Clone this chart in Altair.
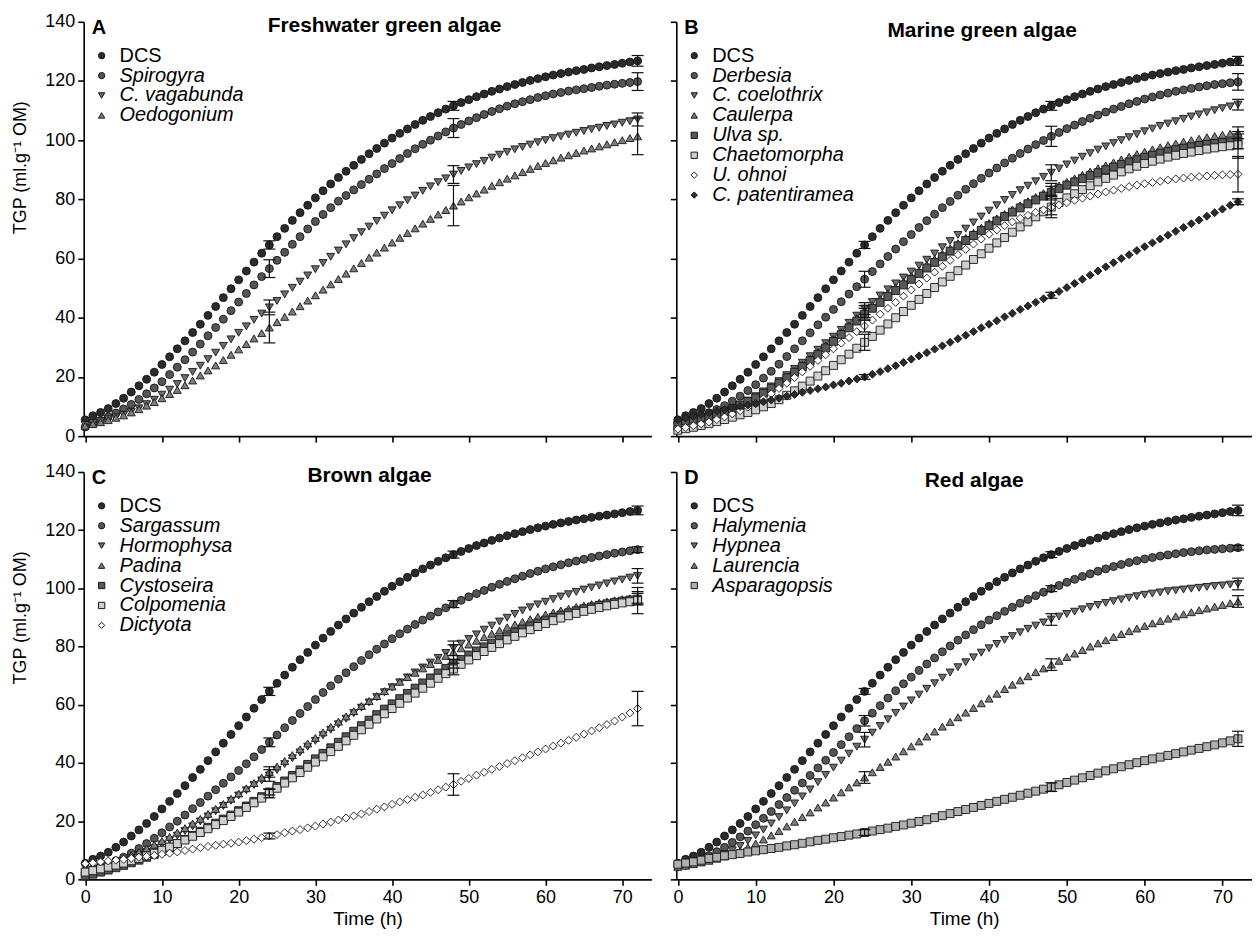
import altair as alt
import pandas as pd

HOURS = list(range(73))
ERR_TIMES = [24, 48, 72]

# ---------------- shared control ----------------
DCS = [5.5, 6.9, 8.0, 9.3, 11.0, 12.8, 14.9, 17.0, 19.2, 21.6,
       24.2, 26.8, 29.5, 32.2, 35.0, 37.8, 40.8, 43.8, 46.8, 49.8,
       52.8, 55.8, 58.8, 61.8, 64.6, 67.4, 70.2, 72.9, 75.5, 78.0,
       80.5, 82.9, 85.2, 87.4, 89.5, 91.5, 93.5, 95.4, 97.2, 99.0,
       100.7, 102.3, 103.8, 105.3, 106.7, 108.0, 109.3, 110.5, 111.6, 112.7,
       113.7, 114.7, 115.6, 116.5, 117.3, 118.1, 118.8, 119.5, 120.2, 120.8,
       121.4, 122.0, 122.5, 123.0, 123.5, 123.9, 124.4, 124.8, 125.2, 125.6,
       126.0, 126.4, 126.8]

# ---------------- A: freshwater green algae ----------------
SPIROGYRA = [3.1, 4.2, 5.3, 6.5, 7.8, 9.2, 10.7, 12.4, 14.3, 16.3,
             18.4, 20.8, 23.3, 25.8, 28.4, 31.1, 33.9, 36.7, 39.5, 42.4,
             45.3, 48.2, 51.1, 53.9, 56.6, 59.4, 62.1, 64.8, 67.4, 70.0,
             72.5, 74.9, 77.2, 79.4, 81.3, 83.2, 85.0, 86.8, 88.6, 90.4,
             92.1, 93.8, 95.5, 97.1, 98.6, 100.0, 101.4, 102.8, 104.1, 105.3,
             106.5, 107.6, 108.7, 109.7, 110.6, 111.5, 112.3, 113.0, 113.7, 114.4,
             115.0, 115.6, 116.1, 116.6, 117.0, 117.4, 117.8, 118.2, 118.6, 118.9,
             119.2, 119.5, 119.8]
C_VAGABUNDA = [3.8, 4.4, 5.0, 5.7, 6.4, 7.2, 8.2, 9.4, 10.8, 12.3,
               14.0, 15.7, 17.6, 19.6, 21.7, 23.8, 26.0, 28.2, 30.5, 32.7,
               34.9, 37.1, 39.3, 41.4, 43.5, 45.7, 47.9, 50.1, 52.2, 54.3,
               56.4, 58.5, 60.6, 62.7, 64.8, 66.9, 68.9, 70.8, 72.7, 74.5,
               76.3, 78.0, 79.7, 81.3, 82.9, 84.4, 85.8, 87.1, 88.4, 89.6,
               90.8, 91.9, 93.0, 94.1, 95.1, 96.0, 96.9, 97.7, 98.5, 99.3,
               100.0, 100.7, 101.3, 101.9, 102.5, 103.1, 103.7, 104.2, 104.8, 105.3,
               105.9, 106.4, 107.0]
OEDOGONIUM = [3.5, 4.1, 4.7, 5.4, 6.2, 7.0, 8.0, 9.1, 10.3, 11.5,
              12.8, 14.2, 15.6, 17.2, 18.8, 20.5, 22.2, 23.9, 25.7, 27.5,
              29.3, 31.1, 33.0, 34.8, 36.7, 38.5, 40.3, 42.1, 43.9, 45.8,
              47.6, 49.5, 51.3, 53.1, 54.9, 56.7, 58.5, 60.3, 62.0, 63.7,
              65.4, 67.0, 68.6, 70.2, 71.8, 73.4, 74.9, 76.4, 77.9, 79.3,
              80.7, 82.0, 83.3, 84.6, 85.8, 87.0, 88.1, 89.2, 90.3, 91.3,
              92.3, 93.2, 94.1, 94.9, 95.7, 96.5, 97.2, 97.9, 98.6, 99.3,
              100.0, 100.7, 101.3]

# ---------------- B: marine green algae ----------------
DERBESIA = [4.5, 5.2, 6.0, 6.9, 7.9, 9.0, 10.3, 11.8, 13.5, 15.4,
            17.4, 19.6, 21.9, 24.3, 26.9, 29.5, 32.2, 34.9, 37.6, 40.2,
            42.8, 45.4, 48.0, 50.5, 53.0, 55.6, 58.2, 60.7, 63.2, 65.7,
            68.1, 70.5, 72.8, 75.0, 77.2, 79.3, 81.4, 83.4, 85.3, 87.1,
            88.9, 90.6, 92.3, 93.9, 95.5, 97.0, 98.5, 99.9, 101.3, 102.6,
            103.9, 105.1, 106.3, 107.4, 108.5, 109.5, 110.5, 111.4, 112.3, 113.1,
            113.9, 114.6, 115.3, 115.9, 116.5, 117.0, 117.5, 118.0, 118.4, 118.8,
            119.1, 119.4, 119.7]
C_COELOTHRIX = [3.0, 3.6, 4.3, 5.1, 6.0, 7.0, 8.1, 9.3, 10.6, 12.0,
                13.5, 15.1, 16.8, 18.6, 20.6, 22.7, 24.8, 27.0, 29.2, 31.4,
                33.6, 35.9, 38.3, 40.7, 43.1, 45.3, 47.5, 49.6, 51.6, 53.6,
                55.6, 57.6, 59.6, 61.7, 63.8, 65.9, 68.0, 70.1, 72.2, 74.2,
                76.2, 78.0, 79.8, 81.5, 83.1, 84.6, 86.1, 87.6, 89.0, 90.4,
                91.8, 93.1, 94.4, 95.6, 96.8, 97.9, 99.0, 100.0, 101.0, 102.0,
                103.0, 103.9, 104.8, 105.6, 106.4, 107.2, 108.0, 108.7, 109.4, 110.1,
                110.8, 111.4, 112.0]
CAULERPA = [3.5, 4.0, 4.6, 5.3, 6.1, 7.0, 8.0, 9.1, 10.3, 11.6,
            13.0, 14.6, 16.3, 18.1, 20.0, 22.0, 24.1, 26.2, 28.4, 30.6,
            32.8, 35.1, 37.4, 39.8, 42.1, 44.2, 46.3, 48.3, 50.3, 52.2,
            54.1, 56.0, 57.9, 59.8, 61.6, 63.4, 65.2, 67.0, 68.7, 70.4,
            72.0, 73.6, 75.1, 76.6, 78.0, 79.4, 80.8, 82.1, 83.4, 84.7,
            85.9, 87.1, 88.3, 89.4, 90.5, 91.5, 92.5, 93.5, 94.4, 95.3,
            96.1, 96.9, 97.6, 98.3, 98.9, 99.5, 100.0, 100.5, 101.0, 101.4,
            101.8, 102.2, 102.5]
ULVA = [3.7, 4.2, 4.8, 5.5, 6.3, 7.2, 8.2, 9.3, 10.5, 11.7,
        12.9, 14.5, 16.2, 17.9, 19.7, 21.6, 23.5, 25.5, 27.6, 29.8,
        32.0, 34.3, 36.6, 38.9, 41.2, 43.2, 45.2, 47.2, 49.2, 51.1,
        53.0, 54.9, 56.8, 58.7, 60.6, 62.5, 64.3, 66.1, 67.8, 69.5,
        71.1, 72.7, 74.2, 75.7, 77.1, 78.5, 79.8, 81.1, 82.4, 83.6,
        84.8, 85.9, 87.0, 88.0, 89.0, 90.0, 90.9, 91.8, 92.6, 93.4,
        94.2, 94.9, 95.6, 96.2, 96.8, 97.3, 97.8, 98.2, 98.6, 98.9,
        99.2, 99.4, 99.6]
CHAETOMORPHA = [2.0, 2.5, 3.0, 3.6, 4.2, 4.9, 5.6, 6.4, 7.2, 8.0,
                8.9, 9.9, 11.0, 12.3, 13.8, 15.3, 16.9, 18.6, 20.3, 22.1,
                23.9, 25.8, 27.7, 29.7, 31.7, 33.7, 35.8, 37.9, 40.0, 42.1,
                44.2, 46.2, 48.2, 50.2, 52.1, 54.0, 55.9, 57.8, 59.7, 61.6,
                63.5, 65.3, 67.1, 68.9, 70.7, 72.4, 74.1, 75.8, 77.4, 79.0,
                80.5, 81.9, 83.3, 84.6, 85.9, 87.1, 88.2, 89.3, 90.3, 91.2,
                92.1, 92.9, 93.6, 94.3, 94.9, 95.5, 96.0, 96.5, 97.0, 97.4,
                97.8, 98.1, 98.4]
U_OHNOI = [2.4, 2.9, 3.5, 4.1, 4.8, 5.6, 6.5, 7.5, 8.6, 9.8,
           11.0, 12.6, 14.3, 16.1, 17.9, 19.8, 21.7, 23.6, 25.6, 27.5,
           29.5, 31.4, 33.3, 35.3, 37.2, 39.2, 41.2, 43.2, 45.2, 47.3,
           49.4, 51.4, 53.4, 55.4, 57.4, 59.4, 61.3, 63.1, 64.9, 66.6,
           68.2, 69.7, 71.1, 72.4, 73.6, 74.6, 75.6, 76.5, 77.3, 78.1,
           78.9, 79.7, 80.4, 81.1, 81.8, 82.5, 83.1, 83.7, 84.3, 84.8,
           85.3, 85.7, 86.1, 86.5, 86.9, 87.2, 87.5, 87.7, 87.9, 88.1,
           88.3, 88.4, 88.5]
C_PATENTIRAMEA = [5.5, 6.1, 6.7, 7.3, 7.9, 8.5, 9.0, 9.5, 10.0, 10.5,
                  11.0, 11.6, 12.2, 12.8, 13.5, 14.1, 14.8, 15.4, 16.0, 16.6,
                  17.3, 17.9, 18.6, 19.3, 20.0, 20.9, 21.8, 22.8, 23.8, 24.9,
                  26.0, 27.1, 28.2, 29.4, 30.5, 31.7, 32.9, 34.1, 35.3, 36.6,
                  37.8, 39.0, 40.3, 41.5, 42.8, 44.0, 45.2, 46.4, 47.6, 48.9,
                  50.2, 51.6, 53.0, 54.4, 55.8, 57.2, 58.6, 60.0, 61.3, 62.7,
                  64.0, 65.3, 66.6, 67.9, 69.2, 70.5, 71.8, 73.0, 74.3, 75.5,
                  76.7, 78.0, 79.2]

# ---------------- C: brown algae ----------------
SARGASSUM = [2.9, 3.6, 4.4, 5.3, 6.4, 7.6, 9.0, 10.6, 12.3, 14.1,
             16.0, 18.0, 20.0, 22.1, 24.3, 26.4, 28.6, 30.8, 33.0, 35.2,
             37.4, 39.7, 42.1, 44.6, 47.1, 49.6, 52.1, 54.6, 57.0, 59.4,
             61.8, 64.2, 66.5, 68.8, 71.0, 73.1, 75.2, 77.2, 79.1, 80.9,
             82.7, 84.4, 86.0, 87.6, 89.1, 90.5, 91.9, 93.3, 94.6, 95.9,
             97.1, 98.2, 99.3, 100.4, 101.4, 102.4, 103.3, 104.2, 105.1, 105.9,
             106.7, 107.4, 108.1, 108.8, 109.4, 110.0, 110.6, 111.1, 111.6, 112.1,
             112.5, 112.9, 113.3]
HORMOPHYSA = [2.5, 3.1, 3.8, 4.6, 5.4, 6.3, 7.3, 8.4, 9.5, 10.7,
              12.0, 13.5, 15.0, 16.6, 18.2, 19.9, 21.6, 23.4, 25.2, 27.0,
              28.8, 30.6, 32.4, 34.0, 35.7, 37.6, 39.6, 41.6, 43.6, 45.6,
              47.6, 49.5, 51.4, 53.3, 55.2, 57.1, 59.0, 60.8, 62.6, 64.3,
              66.0, 67.7, 69.4, 71.1, 72.8, 74.5, 76.1, 77.8, 79.4, 81.0,
              82.6, 84.2, 85.8, 87.2, 88.6, 89.9, 91.2, 92.4, 93.5, 94.5,
              95.4, 96.3, 97.2, 98.0, 98.8, 99.6, 100.3, 101.0, 101.7, 102.4,
              103.0, 103.7, 104.3]
PADINA = [3.5, 4.1, 4.8, 5.6, 6.4, 7.3, 8.3, 9.4, 10.6, 11.9,
          13.2, 14.6, 16.1, 17.6, 19.2, 20.8, 22.5, 24.2, 25.9, 27.7,
          29.5, 31.3, 33.1, 35.0, 36.9, 38.8, 40.7, 42.7, 44.7, 46.7,
          48.6, 50.5, 52.4, 54.2, 56.0, 57.8, 59.6, 61.3, 63.0, 64.7,
          66.3, 67.9, 69.5, 71.0, 72.5, 74.0, 75.4, 76.8, 78.1, 79.4,
          80.7, 82.0, 83.2, 84.4, 85.5, 86.6, 87.6, 88.5, 89.4, 90.2,
          91.0, 91.7, 92.4, 93.0, 93.6, 94.1, 94.6, 95.1, 95.5, 95.9,
          96.3, 96.6, 96.9]
CYSTOSEIRA = [1.2, 1.8, 2.5, 3.2, 4.0, 4.8, 5.7, 6.6, 7.6, 8.6,
              9.7, 11.0, 12.3, 13.7, 15.1, 16.5, 17.9, 19.3, 20.7, 22.1,
              23.6, 25.2, 26.8, 28.4, 30.0, 31.9, 33.8, 35.7, 37.6, 39.5,
              41.4, 43.3, 45.2, 47.1, 49.0, 50.9, 52.8, 54.7, 56.6, 58.5,
              60.3, 62.1, 63.9, 65.7, 67.5, 69.2, 70.9, 72.5, 74.1, 75.6,
              77.1, 78.5, 79.9, 81.2, 82.5, 83.7, 84.9, 86.0, 87.1, 88.1,
              89.1, 90.0, 90.8, 91.6, 92.3, 93.0, 93.6, 94.2, 94.7, 95.2,
              95.6, 96.0, 96.3]
COLPOMENIA = [2.5, 3.0, 3.6, 4.2, 4.9, 5.6, 6.4, 7.2, 8.1, 9.0,
              10.0, 11.1, 12.3, 13.5, 14.8, 16.1, 17.4, 18.8, 20.2, 21.6,
              23.1, 24.7, 26.3, 27.9, 29.5, 31.3, 33.1, 34.9, 36.7, 38.5,
              40.3, 42.1, 43.9, 45.7, 47.6, 49.5, 51.4, 53.3, 55.1, 56.9,
              58.7, 60.5, 62.3, 64.0, 65.7, 67.4, 69.1, 70.7, 72.3, 73.9,
              75.4, 76.9, 78.3, 79.7, 81.0, 82.3, 83.5, 84.7, 85.8, 86.9,
              87.9, 88.9, 89.8, 90.6, 91.4, 92.1, 92.8, 93.4, 94.0, 94.5,
              95.0, 95.4, 95.8]
DICTYOTA = [5.4, 5.7, 6.0, 6.3, 6.6, 6.9, 7.2, 7.6, 7.9, 8.2,
            8.6, 9.0, 9.4, 9.9, 10.4, 10.9, 11.3, 11.7, 12.1, 12.4,
            12.8, 13.3, 13.8, 14.3, 14.9, 15.4, 16.0, 16.6, 17.1, 17.7,
            18.3, 19.0, 19.7, 20.4, 21.1, 21.8, 22.5, 23.3, 24.1, 24.9,
            25.8, 26.6, 27.4, 28.2, 29.0, 29.9, 30.8, 31.7, 32.6, 33.7,
            34.7, 35.8, 36.8, 37.8, 38.8, 39.8, 40.8, 41.8, 42.8, 43.8,
            44.8, 45.8, 46.8, 47.8, 48.8, 49.9, 51.0, 52.1, 53.2, 54.4,
            55.8, 57.2, 58.7]

# ---------------- D: red algae ----------------
HALYMENIA = [4.5, 5.2, 6.0, 7.0, 8.1, 9.5, 11.0, 12.7, 14.6, 16.6,
             18.8, 21.0, 23.3, 25.7, 28.1, 30.6, 33.1, 35.7, 38.3, 40.9,
             43.6, 46.3, 49.0, 51.8, 54.5, 57.1, 59.7, 62.3, 64.8, 67.2,
             69.5, 71.8, 74.0, 76.1, 78.2, 80.2, 82.2, 84.0, 85.8, 87.5,
             89.1, 90.6, 92.1, 93.5, 94.9, 96.2, 97.5, 98.7, 99.9, 101.0,
             102.1, 103.1, 104.1, 105.0, 105.9, 106.7, 107.5, 108.2, 108.9, 109.5,
             110.1, 110.6, 111.1, 111.5, 111.9, 112.3, 112.6, 112.9, 113.2, 113.4,
             113.6, 113.8, 114.0]
HYPNEA = [4.0, 4.5, 5.1, 5.8, 6.6, 7.6, 8.7, 10.0, 11.5, 13.2,
          15.1, 17.1, 19.2, 21.4, 23.7, 26.1, 28.5, 30.9, 33.4, 35.9,
          38.4, 40.8, 43.2, 45.6, 48.0, 50.4, 52.7, 55.0, 57.2, 59.4,
          61.5, 63.5, 65.5, 67.4, 69.3, 71.1, 72.9, 74.6, 76.3, 77.9,
          79.4, 80.9, 82.3, 83.6, 84.9, 86.1, 87.2, 88.3, 89.3, 90.3,
          91.2, 92.0, 92.8, 93.6, 94.3, 95.0, 95.6, 96.2, 96.8, 97.3,
          97.8, 98.2, 98.6, 99.0, 99.3, 99.6, 99.9, 100.2, 100.5, 100.8,
          101.0, 101.3, 101.5]
LAURENCIA = [4.3, 4.7, 5.2, 5.8, 6.4, 7.1, 7.9, 8.8, 9.8, 11.0,
             12.3, 13.7, 15.1, 16.6, 18.2, 19.8, 21.4, 23.0, 24.7, 26.4,
             28.1, 29.9, 31.6, 33.3, 35.0, 36.8, 38.6, 40.4, 42.2, 44.0,
             45.7, 47.4, 49.1, 50.8, 52.5, 54.1, 55.7, 57.3, 58.9, 60.5,
             62.1, 63.8, 65.4, 66.9, 68.4, 69.8, 71.2, 72.5, 73.8, 75.1,
             76.4, 77.6, 78.8, 80.0, 81.1, 82.2, 83.3, 84.3, 85.3, 86.2,
             87.1, 88.0, 88.8, 89.6, 90.4, 91.1, 91.8, 92.5, 93.1, 93.7,
             94.3, 94.9, 95.5]
ASPARAGOPSIS = [5.2, 5.6, 6.0, 6.6, 7.2, 7.6, 8.1, 8.5, 8.9, 9.4,
                9.8, 10.2, 10.6, 11.0, 11.5, 11.9, 12.4, 12.9, 13.4, 13.8,
                14.3, 14.7, 15.2, 15.6, 16.1, 16.6, 17.1, 17.6, 18.2, 18.7,
                19.3, 19.9, 20.5, 21.2, 21.9, 22.6, 23.3, 24.0, 24.7, 25.4,
                26.1, 26.8, 27.5, 28.2, 28.9, 29.6, 30.3, 31.0, 31.7, 32.5,
                33.3, 34.1, 34.9, 35.7, 36.5, 37.3, 38.0, 38.7, 39.4, 40.1,
                40.8, 41.4, 42.0, 42.6, 43.2, 43.8, 44.4, 45.0, 45.6, 46.2,
                46.9, 47.6, 48.3]

# ---------------- error half-widths at 24, 48, 72 h ----------------
ERR = {
    "A": {"DCS": [1.4, 1.5, 1.8], "Spirogyra": [3.0, 3.2, 3.0],
          "C. vagabunda": [2.5, 3.0, 2.2], "Oedogonium": [5.2, 6.8, 6.2]},
    "B": {"DCS": [1.2, 1.5, 1.5], "Derbesia": [2.7, 3.4, 2.8],
          "C. coelothrix": [2.0, 2.7, 1.8], "Caulerpa": [2.0, 2.0, 2.0],
          "Ulva sp.": [2.0, 2.0, 2.5], "Chaetomorpha": [2.7, 3.6, 4.5],
          "U. ohnoi": [2.0, 2.5, 6.0], "C. patentiramea": [0.8, 1.0, 1.0]},
    "C": {"DCS": [1.4, 1.2, 1.5], "Sargassum": [1.5, 1.2, 1.0],
          "Hormophysa": [2.0, 2.5, 2.5], "Padina": [1.8, 2.5, 2.0],
          "Cystoseira": [1.0, 1.5, 2.0], "Colpomenia": [1.5, 2.0, 4.5],
          "Dictyota": [1.0, 3.7, 5.9]},
    "D": {"DCS": [1.0, 1.0, 1.8], "Halymenia": [1.8, 1.0, 0.8],
          "Hypnea": [2.5, 2.0, 2.0], "Laurencia": [2.0, 2.0, 2.0],
          "Asparagopsis": [1.0, 1.5, 2.6]},
}

PANELS = [
    ("A", "Freshwater green algae", [
        ("DCS", DCS, "circle", "#2b2b2b"),
        ("Spirogyra", SPIROGYRA, "circle", "#555555"),
        ("C. vagabunda", C_VAGABUNDA, "triangle-down", "#6e6e6e"),
        ("Oedogonium", OEDOGONIUM, "triangle-up", "#7e7e7e")]),
    ("B", "Marine green algae", [
        ("DCS", DCS, "circle", "#2b2b2b"),
        ("Derbesia", DERBESIA, "circle", "#555555"),
        ("C. coelothrix", C_COELOTHRIX, "triangle-down", "#6e6e6e"),
        ("Caulerpa", CAULERPA, "triangle-up", "#7e7e7e"),
        ("Ulva sp.", ULVA, "square", "#585858"),
        ("Chaetomorpha", CHAETOMORPHA, "square", "#cfcfcf"),
        ("U. ohnoi", U_OHNOI, "diamond", "#ffffff"),
        ("C. patentiramea", C_PATENTIRAMEA, "diamond", "#2b2b2b")]),
    ("C", "Brown algae", [
        ("DCS", DCS, "circle", "#2b2b2b"),
        ("Sargassum", SARGASSUM, "circle", "#555555"),
        ("Hormophysa", HORMOPHYSA, "triangle-down", "#6e6e6e"),
        ("Padina", PADINA, "triangle-up", "#7e7e7e"),
        ("Cystoseira", CYSTOSEIRA, "square", "#585858"),
        ("Colpomenia", COLPOMENIA, "square", "#cfcfcf"),
        ("Dictyota", DICTYOTA, "diamond", "#ffffff")]),
    ("D", "Red algae", [
        ("DCS", DCS, "circle", "#2b2b2b"),
        ("Halymenia", HALYMENIA, "circle", "#555555"),
        ("Hypnea", HYPNEA, "triangle-down", "#6e6e6e"),
        ("Laurencia", LAURENCIA, "triangle-up", "#7e7e7e"),
        ("Asparagopsis", ASPARAGOPSIS, "square", "#b0b0b0")]),
]

TITLE_DX = {"A": 17, "B": 18, "C": 2, "D": 10}

FONT = "Liberation Sans"
Y_TITLE = "TGP (ml.g\u207b\u00b9 OM)"
EDGE = "#151515"


def make_panel(letter, title, series, left, bottom, width, height):
    names = [s[0] for s in series]
    shapes = [s[2] for s in series]
    fills = [s[3] for s in series]
    rows = []
    for name, vals, _, _ in series:
        for t, v in zip(HOURS, vals):
            rows.append({"t": t, "v": v, "s": name})
    df = pd.DataFrame(rows)
    erows = []
    for name, vals, _, _ in series:
        for t, e in zip(ERR_TIMES, ERR[letter][name]):
            v = vals[t]
            erows.append({"t": t, "lo": v - e, "hi": v + e, "s": name})
    edf = pd.DataFrame(erows)

    xscale = alt.Scale(domain=[-0.2, 73.8], nice=False, zero=False)
    yscale = alt.Scale(domain=[0, 140], nice=False, zero=True)
    xaxis = alt.Axis(values=list(range(0, 71, 10)), labels=bottom,
                     title="Time (h)" if bottom else None, titlePadding=3,
                     titleFontSize=19)
    yaxis = alt.Axis(values=list(range(0, 141, 20)), labels=left,
                     title=Y_TITLE if left else None, titlePadding=15,
                     titleY=146)

    leg = alt.Legend(title=letter, orient="none", legendX=8, legendY=-4,
                     titleFontSize=20, titleFontWeight="bold", titleFont=FONT,
                     titleColor="black", titlePadding=8,
                     labelFontSize=20, labelFont=FONT, labelColor="black",
                     labelFontStyle={"expr": "datum.label == 'DCS' ? 'normal' : 'italic'"},
                     symbolSize=40, symbolStrokeWidth=1,
                     rowPadding=0, labelOffset=8, padding=0)

    pts = alt.Chart(df).mark_point(filled=False, size=64,
                                   strokeWidth=0.9, opacity=1, fillOpacity=1).encode(
        x=alt.X("t:Q", scale=xscale, axis=xaxis),
        y=alt.Y("v:Q", scale=yscale, axis=yaxis),
        fill=alt.Fill("s:N", scale=alt.Scale(domain=names, range=fills), legend=leg),
        shape=alt.Shape("s:N", scale=alt.Scale(domain=names, range=shapes), legend=leg),
        stroke=alt.Stroke("s:N", scale=alt.Scale(domain=names, range=[EDGE] * len(names)),
                          legend=leg),
    )
    bars = alt.Chart(edf).mark_rule(color="#111111", strokeWidth=1.2).encode(
        x=alt.X("t:Q", scale=xscale, axis=xaxis),
        y=alt.Y("lo:Q", scale=yscale, axis=yaxis),
        y2="hi:Q",
    )
    cap_lo = alt.Chart(edf).mark_tick(orient="horizontal", size=12, thickness=1.2,
                                      color="#111111", opacity=1).encode(
        x=alt.X("t:Q", scale=xscale, axis=xaxis),
        y=alt.Y("lo:Q", scale=yscale, axis=yaxis),
    )
    cap_hi = alt.Chart(edf).mark_tick(orient="horizontal", size=12, thickness=1.2,
                                      color="#111111", opacity=1).encode(
        x=alt.X("t:Q", scale=xscale, axis=xaxis),
        y=alt.Y("hi:Q", scale=yscale, axis=yaxis),
    )
    return alt.layer(pts, bars, cap_lo, cap_hi).properties(
        width=width, height=height,
        title=alt.TitleParams(text=title, fontSize=21, font=FONT, fontWeight="bold",
                              anchor="middle", frame="group", offset=-23,
                              dx=TITLE_DX[letter], color="black"),
    )


pA = make_panel(*PANELS[0], left=True, bottom=False, width=570, height=416)
pB = make_panel(*PANELS[1], left=False, bottom=False, width=578, height=416)
pC = make_panel(*PANELS[2], left=True, bottom=True, width=570, height=409)
pD = make_panel(*PANELS[3], left=False, bottom=True, width=578, height=409)

RES = dict(fill="independent", shape="independent", stroke="independent")

top = alt.hconcat(pA, pB, spacing=18).resolve_scale(**RES).resolve_legend(**RES)
bot = alt.hconcat(pC, pD, spacing=18).resolve_scale(**RES).resolve_legend(**RES)

chart = alt.vconcat(top, bot, spacing=18).resolve_scale(**RES).resolve_legend(**RES).properties(
    padding={"left": 3, "right": 0, "top": 3, "bottom": 0},
    background="white",
).configure_view(stroke=None).configure_axis(
    domainColor="black", domainWidth=1.6, tickColor="black", tickWidth=1.6,
    tickSize=6, labelFontSize=18, labelFont=FONT, labelColor="black",
    labelPadding=3, titleFontSize=18, titleFont=FONT, titleFontWeight="normal",
    titleColor="black", grid=False,
)

chart.save("out.html", embed_options={"renderer": "svg", "actions": False})
